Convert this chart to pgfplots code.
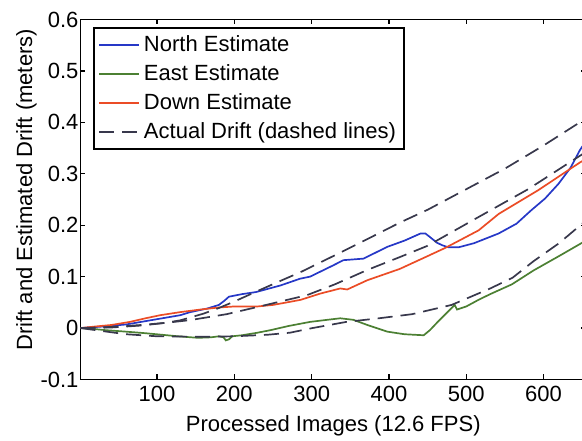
\documentclass[border=0pt]{standalone}
\usepackage{pgfplots}
\pgfplotsset{compat=1.18}
\usepackage{fontspec}
\setmainfont{Liberation Sans}
\definecolor{nblue}{rgb}{0.15,0.22,0.78}
\definecolor{egreen}{rgb}{0.30,0.50,0.20}
\definecolor{dred}{rgb}{0.92,0.30,0.15}
\definecolor{dgray}{rgb}{0.22,0.22,0.30}
\begin{document}
\begin{tikzpicture}
\begin{axis}[
  scale only axis, width=252.8pt, height=180pt,
  xmin=1, xmax=655, ymin=-0.1, ymax=0.6,
  xtick={100,200,300,400,500,600},
  ytick={-0.1,0,0.1,0.2,0.3,0.4,0.5,0.6},
  yticklabels={-0.1,0,0.1,0.2,0.3,0.4,0.5,0.6},
  tick align=inside, major tick length=2.5pt,
  tick style={line width=0.6pt, black},
  axis line style={line width=0.8pt},
  font=\fontsize{11}{13}\selectfont,
  /pgf/number format/assume math mode=true,
  yticklabel style={xshift=2.5pt},
  xlabel={Processed Images (12.6 FPS)},
  ylabel={Drift and Estimated Drift (meters)},
  ylabel style={at={(ticklabel cs:0.527)}, yshift=-5pt},
  legend cell align=left,
  legend image code/.code={\draw[#1] (0pt,0pt) -- (20pt,0pt);},
  legend style={at={(0,1)}, anchor=north west, xshift=6.5pt, yshift=-3.75pt,
    draw=black, line width=0.8pt, inner xsep=2pt, inner ysep=1.8pt,
    row sep=1.05pt, font=\fontsize{11}{13}\selectfont},
  every axis plot/.append style={line width=0.85pt},
]
\addplot[nblue] coordinates {
(1,0) (30,0.003) (60,0.007) (95,0.016) (130,0.025) (143,0.031) (165,0.038) (180,0.045)
(187,0.053) (193,0.061) (210,0.066) (228,0.070) (260,0.083) (285,0.096) (298,0.100)
(328,0.122) (341,0.132) (367,0.135) (398,0.158) (420,0.170) (441,0.184) (447,0.184)
(453,0.177) (462,0.166) (469,0.161) (477,0.157) (490,0.157) (510,0.165) (542,0.184)
(565,0.203) (584,0.229) (602,0.252) (619,0.280) (635,0.312) (647,0.346) (660,0.375)};
\addlegendentry{North Estimate}
\addplot[egreen] coordinates {
(1,0) (20,-0.002) (33,-0.004) (60,-0.007) (85,-0.010) (113,-0.014) (127,-0.016)
(153,-0.019) (170,-0.018) (180,-0.016) (186,-0.018) (189,-0.024) (193,-0.022)
(197,-0.016) (210,-0.014) (230,-0.009) (247,-0.004) (270,0.004) (298,0.012)
(320,0.016) (337,0.019) (354,0.016) (372,0.006) (398,-0.007) (420,-0.012)
(445,-0.014) (453,-0.004) (465,0.015) (475,0.030) (485,0.045) (488,0.036)
(500,0.042) (516,0.055) (531,0.066) (559,0.085) (587,0.112) (620,0.140)
(650,0.166) (660,0.175)};
\addlegendentry{East Estimate}
\addplot[dred] coordinates {
(1,0) (20,0.003) (41,0.006) (65,0.012) (85,0.019) (104,0.025) (130,0.031) (156,0.036)
(180,0.040) (200,0.042) (230,0.042) (250,0.045) (272,0.051) (286,0.055) (311,0.067)
(337,0.077) (346,0.075) (372,0.093) (414,0.115) (453,0.142) (473,0.156) (516,0.190)
(542,0.222) (593,0.268) (647,0.322) (660,0.333)};
\addlegendentry{Down Estimate}
\addplot[dgray, dash pattern=on 7.5pt off 4pt] coordinates {
(1,0) (40,0.002) (80,0.006) (110,0.010) (130,0.015) (160,0.028) (180,0.039) (199,0.051)
(230,0.072) (260,0.092) (286,0.109) (328,0.140) (372,0.173) (414,0.205) (450,0.230)
(500,0.270) (550,0.310) (600,0.355) (650,0.403) (660,0.413)};
\addlegendentry{Actual Drift (dashed lines)}
\addplot[dgray, dash pattern=on 7.5pt off 4pt, forget plot] coordinates {
(1,0) (40,0.001) (80,0.005) (110,0.010) (143,0.0155) (190,0.027) (230,0.041) (294,0.064)
(330,0.085) (372,0.113) (414,0.138) (450,0.160) (516,0.216) (580,0.270) (647,0.335)
(660,0.347)};
\addplot[dgray, dash pattern=on 7.5pt off 4pt, forget plot] coordinates {
(1,0) (30,-0.006) (60,-0.012) (100,-0.016) (156,-0.017) (200,-0.016) (243,-0.013)
(272,-0.009) (301,0.000) (345,0.012) (387,0.019) (430,0.027) (481,0.045) (531,0.077)
(560,0.098) (587,0.130) (620,0.165) (650,0.203) (660,0.215)};
\end{axis}
\pgfresetboundingbox
\useasboundingbox ([xshift=-40.25pt,yshift=-30.75pt]current axis.south west)
  rectangle ([xshift=250.75pt,yshift=9.75pt]current axis.north west);
\end{tikzpicture}
\end{document}
